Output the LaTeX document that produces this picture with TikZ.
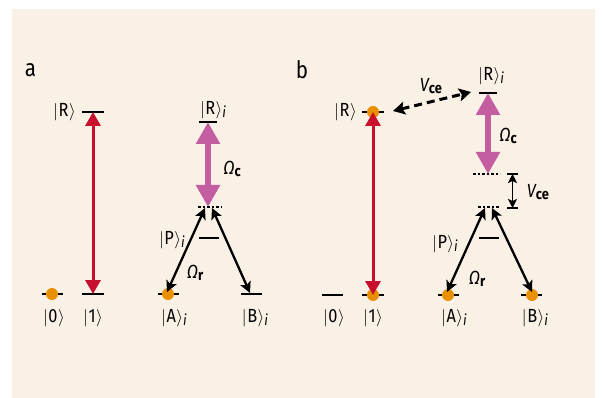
\documentclass[tikz,border=0pt]{standalone}
\usepackage{fontspec}
\setmainfont[FakeStretch=0.86]{Fira Sans}
\usetikzlibrary{arrows.meta}
\definecolor{bgC}{RGB}{250,241,230}
\definecolor{redC}{RGB}{200,16,46}
\definecolor{magC}{RGB}{196,94,160}
\definecolor{orC}{RGB}{232,144,0}
\newcommand{\kt}[1]{{$|$}\kern0.5pt#1\kern0.5pt{$\rangle$}}
\newcommand{\kti}[1]{\kt{#1}\raisebox{-3pt}{\fontsize{15}{15}\selectfont\itshape i}}
\newcommand{\Om}[1]{{\itshape Ω}\raisebox{-2pt}{\fontsize{15}{15}\selectfont\bfseries #1}}
\newcommand{\Vce}{{\itshape V}\raisebox{-2pt}{\fontsize{15}{15}\selectfont\bfseries ce}}
\tikzset{
  lvl/.style={line width=2.5pt},
  dotlvl/.style={line width=2.5pt, dash pattern=on 2.5pt off 2pt},
  atom/.style={circle, fill=orC, minimum size=12pt, inner sep=0pt},
  redarr/.style={draw=redC, line width=3pt, {Triangle[width=15pt,length=14pt]}-{Triangle[width=15pt,length=14pt]}},
  magarr/.style={draw=magC, line width=6pt, {Triangle[width=23pt,length=22pt]}-{Triangle[width=23pt,length=22pt]}},
  blkarr/.style={line width=2.3pt, {Stealth[width=11pt,length=11pt,inset=2.5pt]}-{Stealth[width=11pt,length=11pt,inset=2.5pt]}},
  dasharr/.style={line width=3pt, dash pattern=on 8pt off 5pt, {Stealth[width=13pt,length=12pt,inset=2.5pt]}-{Stealth[width=13pt,length=12pt,inset=2.5pt]}},
  smallarr/.style={line width=1.8pt, {Stealth[width=9pt,length=9pt,inset=2pt]}-{Stealth[width=9pt,length=9pt,inset=2pt]}},
  lab/.style={font=\fontsize{19}{22}\selectfont, inner sep=0pt},
  panel/.style={font=\fontsize{24}{28}\selectfont, inner sep=0pt}
}
\begin{document}
\begin{tikzpicture}[x=1pt,y=-1pt]
\useasboundingbox (0,0) rectangle (602,398);
\fill[bgC] (12,9) rectangle (595,398);

% ---------- panel a ----------
\node[panel] (pa) at (30.5,70) {a};
% levels
\draw[lvl] (82,112) -- (104,112);
\draw[lvl] (42,294) -- (63,294);
\draw[lvl] (82,294) -- (104,294);
\draw[lvl] (199,122) -- (217,122);
\draw[dotlvl] (198,207) -- (221,207);
\draw[lvl] (199,238) -- (219,238);
\draw[lvl] (158,294) -- (179,294);
\draw[lvl] (241,294) -- (262,294);
% atoms
\node[atom] (a0) at (52,294) {};
\node[atom] (aA) at (168,294) {};
% coordinates
\coordinate (aRt) at (93,112);
\coordinate (a1b) at (93,294);
\coordinate (aRi) at (208,122);
\coordinate (aV) at (208,207);
\coordinate (aVl) at (205,208);
\coordinate (aVr) at (212,208);
\coordinate (aAt) at (167,292);
\coordinate (aBt) at (250,293);
% connectors
\draw[redarr] (aRt) -- (a1b);
\draw[magarr] (aRi) -- (aV);
\draw[blkarr] (aVl) -- (aAt);
\draw[blkarr] (aVr) -- (aBt);
% labels
\node[lab, anchor=east] (laR) at (76,112) {\kt{R}};
\node[lab] (la0) at (54,318) {\kt{0}};
\node[lab] (la1) at (93,318) {\kt{1}};
\node[lab] (laRi) at (213,110) {\kti{R}};
\node[lab] (laPi) at (172,240) {\kti{P}};
\node[lab] (laAi) at (174,318) {\kti{A}};
\node[lab] (laBi) at (255,318) {\kti{B}};
\node[lab] (laOc) at (232,169) {\Om{c}};
\node[lab] (laOr) at (195,273) {\Om{r}};

% ---------- panel b ----------
\node[panel] (pb) at (302,70) {b};
\draw[lvl] (322,295) -- (343,295);
\draw[lvl] (362,295) -- (384,295);
\draw[lvl] (362,112) -- (384,112);
\draw[lvl] (479,93) -- (497,93);
\draw[dotlvl] (473,174) -- (500,174);
\draw[dotlvl] (478,207) -- (500,207);
\draw[lvl] (479,238) -- (499,238);
\draw[lvl] (438,295) -- (459,295);
\draw[lvl] (521,295) -- (542,295);
\draw[lvl] (507,174) -- (518,174);
\draw[lvl] (507,208) -- (518,208);
\node[atom] (b1) at (373,295) {};
\node[atom] (bR) at (373,112) {};
\node[atom] (bA) at (448,295) {};
\node[atom] (bB) at (532,295) {};
\coordinate (bRt) at (373,112);
\coordinate (b1b) at (373,295);
\coordinate (bDl) at (393,111);
\coordinate (bDr) at (471,92);
\coordinate (bRi) at (488,93);
\coordinate (bVu) at (488,174);
\coordinate (bSt) at (512.5,174);
\coordinate (bSb) at (512.5,208);
\coordinate (bVl) at (485,208);
\coordinate (bVr) at (492,208);
\coordinate (bAt) at (447,292);
\coordinate (bBt) at (532,292);
\draw[redarr] (bRt) -- (b1b);
\draw[dasharr] (bDl) -- (bDr);
\draw[magarr] (bRi) -- (bVu);
\draw[smallarr] (bSt) -- (bSb);
\draw[blkarr] (bVl) -- (bAt);
\draw[blkarr] (bVr) -- (bBt);
\node[lab, anchor=east] (lbR) at (357,112) {\kt{R}};
\node[lab] (lb0) at (334,318) {\kt{0}};
\node[lab] (lb1) at (373,318) {\kt{1}};
\node[lab] (lbRi) at (491,76) {\kti{R}};
\node[lab] (lbPi) at (445,244) {\kti{P}};
\node[lab] (lbAi) at (454,318) {\kti{A}};
\node[lab] (lbBi) at (535,318) {\kti{B}};
\node[lab] (lbOc) at (508,136) {\Om{c}};
\node[lab] (lbOr) at (477,279) {\Om{r}};
\node[lab] (lbV1) at (431,86) {\Vce};
\node[lab] (lbV2) at (538,192) {\Vce};
\end{tikzpicture}
\end{document}
